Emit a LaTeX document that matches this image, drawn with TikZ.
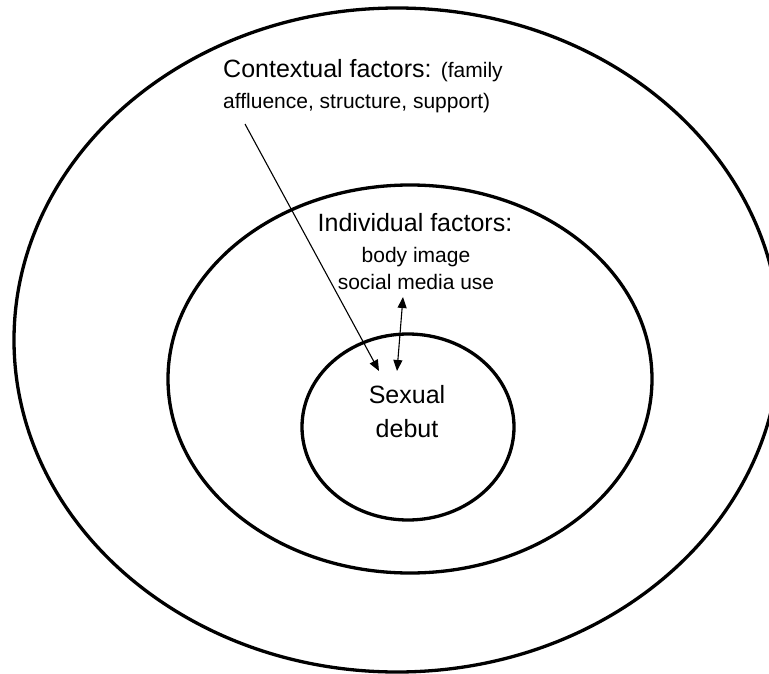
\documentclass[tikz,border=0pt]{standalone}
\usepackage{fontspec}
\setmainfont{Liberation Sans}
\usetikzlibrary{shapes.geometric, arrows.meta, positioning}
\tikzset{
  ring/.style={draw, ellipse, line width=3.3pt, inner sep=0pt},
  link/.style={line width=1.1pt, -{Triangle[length=11pt,width=9pt]}},
  biglabel/.style={font=\fontsize{25}{29}\selectfont, inner sep=0pt},
  smalllabel/.style={font=\fontsize{21}{25}\selectfont, inner sep=0pt},
}
\begin{document}
\begin{tikzpicture}[x=1pt, y=-1pt]
\useasboundingbox (0,0) rectangle (769,674);
% nested rings
\node[ring, minimum width=766pt, minimum height=664pt] (outer) at (397,340) {};
\node[ring, minimum width=484pt, minimum height=388pt] (middle) at (410,379) {};
\node[ring, minimum width=212pt, minimum height=186pt] (inner) at (408,427) {};

% contextual factors
\node[biglabel, anchor=base west] (ctx) at (223,78) {Contextual factors: {\fontsize{21}{25}\selectfont(family}};
\node[smalllabel, anchor=base west] (ctxb) at (223,109) {affluence, structure, support)};

% individual factors
\node[biglabel, anchor=base] (ind) at (415,232) {Individual factors:};
\node[smalllabel, anchor=base] (body) at (416,262) {body image};
\node[smalllabel, anchor=base] (social) at (416,289) {social media use};

% outcome
\node[biglabel, anchor=base] (sex) at (407,403) {Sexual};
\node[biglabel, anchor=base] (debut) at (407,437) {debut};

% arrows
\coordinate (ctxfoot) at (245,124);
\coordinate (hitA) at (379,371);
\coordinate (indfoot) at (403,297);
\coordinate (hitB) at (397,371);
\draw[link] (ctxfoot) -- (hitA);
\draw[link, {Triangle[length=11pt,width=9pt]}-{Triangle[length=11pt,width=9pt]}] (indfoot) -- (hitB);
\end{tikzpicture}
\end{document}
